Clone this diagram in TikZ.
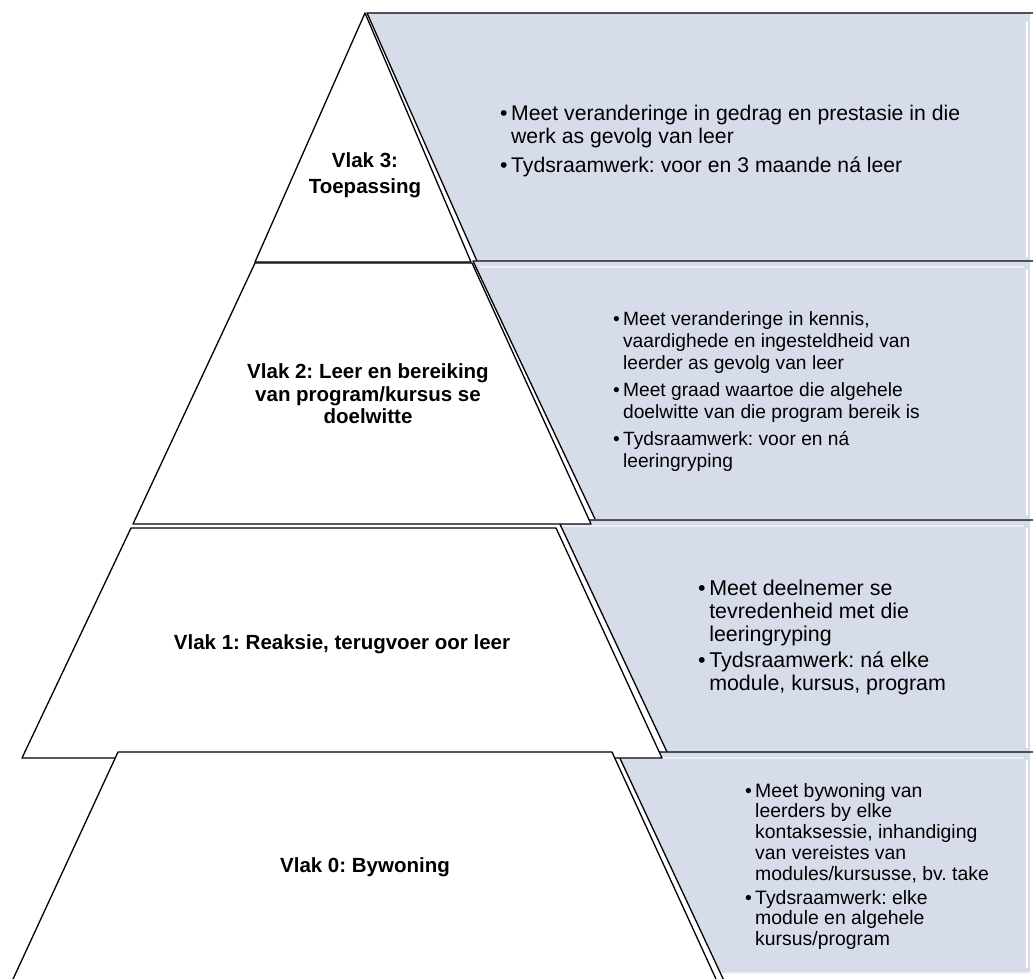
\documentclass[tikz,border=0pt]{standalone}
\usepackage{fontspec}
\setmainfont{Liberation Sans}
\definecolor{panel}{HTML}{D6DCEA}
\begin{document}
\frenchspacing
\begin{tikzpicture}[x=1pt,y=-1pt,
  edge/.style={draw=black,line width=1.3pt,line join=round},
  lvl/.style={fill=white,draw=black,line width=1.3pt,line join=round},
  hilite/.style={draw=white,line width=1.6pt},
  lab/.style={font=\bfseries\fontsize{20.5}{22.5}\selectfont,align=center,inner sep=0pt},
  ptext/.style={anchor=north west,inner sep=0pt,align=left}]
\useasboundingbox (0,0) rectangle (1033,979);
% blue panels
\fill[panel] (367,13) -- (1030,13) -- (1030,261) -- (478,261) -- cycle;
\fill[panel] (473,262) -- (1030,262) -- (1030,519) -- (595,519) -- cycle;
\fill[panel] (558,520) -- (1030,520) -- (1030,752) -- (667,752) -- cycle;
\fill[panel] (617,752) -- (1030,752) -- (1030,973) -- (721,973) -- cycle;
\draw[hilite] (1027,22) -- (1027,257);
\draw[hilite] (1027,270) -- (1027,515);
\draw[hilite] (1027,528) -- (1027,748);
\draw[hilite] (1027,760) -- (1027,968);
\draw[white!60!panel,line width=1.5pt] (725,973) -- (1030,973);
\draw[white!55!panel,line width=1.2pt] (480,267) -- (1024,267);
\draw[white!55!panel,line width=1.2pt] (562,526) -- (1024,526);
\draw[white!55!panel,line width=1.2pt] (620,758) -- (1024,758);
\draw[edge] (477,261) -- (367,13) -- (1033,13);
\draw[edge] (595,519) -- (473,261) -- (1033,261);
\draw[edge] (667,752) -- (558,520) -- (1033,520);
\draw[edge] (726,985) -- (617,752) -- (1033,752);
% white levels
\draw[lvl] (365,13) -- (471,262) -- (255,262) -- cycle;
\draw[lvl] (255,263) -- (472,263) -- (591,524) -- (133,524) -- cycle;
\draw[lvl] (131,528) -- (556,528) -- (662,758) -- (22,758) -- cycle;
\draw[lvl] (118,752) -- (612,752) -- (721,990) -- (8,990) -- cycle;
% labels
\node[lab,font=\bfseries\fontsize{20.5}{26}\selectfont] (v3) at (365,175) {Vlak 3:\\Toepassing};
\node[lab] (v2) at (368,394) {Vlak 2: Leer en bereiking\\van program/kursus se\\doelwitte};
\node[lab] (v1) at (342,644) {Vlak 1: Reaksie, terugvoer oor leer};
\node[lab] (v0) at (365,867) {Vlak 0: Bywoning};
% texts
\node[ptext,font=\fontsize{21.2}{23}\selectfont] (t3) at (500,104.5) {\begin{tabular}{@{}l@{\,}l@{}}\textbullet & Meet veranderinge in gedrag en prestasie in die\\ & werk as gevolg van leer\\[6pt] \textbullet & Tydsraamwerk: voor en 3 maande ná leer\end{tabular}};
\node[ptext,font=\fontsize{19.2}{22}\selectfont] (t2) at (613,309.5) {\begin{tabular}{@{}l@{\,}l@{}}\textbullet & Meet veranderinge in kennis,\\ & vaardighede en ingesteldheid van\\ & leerder as gevolg van leer\\[5pt] \textbullet & Meet graad waartoe die algehele\\ & doelwitte van die program bereik is\\[5pt] \textbullet & Tydsraamwerk: voor en ná\\ & leeringryping\end{tabular}};
\node[ptext,font=\fontsize{21.4}{23}\selectfont] (t1) at (698,579.5) {\begin{tabular}{@{}l@{\,}l@{}}\textbullet & Meet deelnemer se\\ & tevredenheid met die\\ & leeringryping\\[3pt] \textbullet & Tydsraamwerk: ná elke\\ & module, kursus, program\end{tabular}};
\node[ptext,font=\fontsize{19.4}{20.8}\selectfont] (t0) at (745,782.4) {\begin{tabular}{@{}l@{\,}l@{}}\textbullet & Meet bywoning van\\ & leerders by elke\\ & kontaksessie, inhandiging\\ & van vereistes van\\ & modules/kursusse, bv. take\\[3pt] \textbullet & Tydsraamwerk: elke\\ & module en algehele\\ & kursus/program\end{tabular}};
\end{tikzpicture}
\end{document}
